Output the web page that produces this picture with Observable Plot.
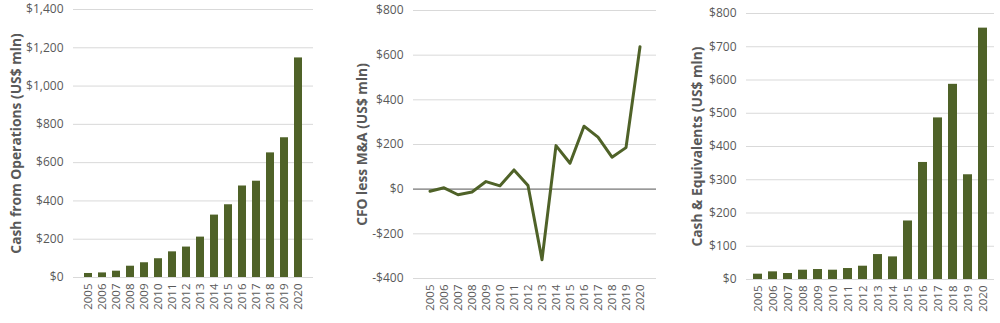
<!DOCTYPE html>
<html>
<head>
<meta charset="utf-8">
<script src="https://cdn.jsdelivr.net/npm/d3@7"></script>
<script src="https://cdn.jsdelivr.net/npm/@observablehq/plot@0.6"></script>
<style>
  html, body { margin: 0; padding: 0; background: #fff; }
  #row { display: flex; flex-direction: row; width: 1000px; height: 323px; overflow: hidden; }
  #row svg { display: block; }
</style>
</head>
<body>
<div id="row"></div>
<script>
const years = ["2005","2006","2007","2008","2009","2010","2011","2012","2013","2014","2015","2016","2017","2018","2019","2020"];
const cashFromOps = [21, 24, 33, 59, 77, 98, 134, 159, 211, 326, 380, 478, 503, 651, 730, 1147];
const cfoLessMA = [-9, 6, -25, -13, 34, 15, 86, 16, -316, 195, 116, 282, 233, 143, 186, 638];
const cashEquiv = [16, 23, 18, 28, 30, 28, 33, 40, 75, 68, 176, 352, 486, 587, 315, 756];

const ticks1 = [0, 200, 400, 600, 800, 1000, 1200, 1400];
const ticks2 = [-400, -200, 0, 200, 400, 600, 800];
const ticks3 = [0, 100, 200, 300, 400, 500, 600, 700, 800];

const titles = ["Cash from Operations (US$ mln)", "CFO less M&A (US$ mln)", "Cash & Equivalents (US$ mln)"];

const GREEN = "#4f6228";
const TEXT = "#595959";
const GRID = "#d9d9d9";
const FONT = "'Open Sans', 'Liberation Sans', sans-serif";

const fmt = v => (v < 0 ? "-$" : "$") + d3.format(",")(Math.abs(v));

function rows(vals) { return years.map((y, i) => ({year: y, value: vals[i]})); }

function panel({width, ml, mr, mt, mb, domain, ticks, title, titleDx, line, data}) {
  const marks = [
    Plot.ruleY(ticks, {stroke: GRID, strokeWidth: 1}),
    Plot.axisY({ticks, tickFormat: fmt, tickSize: 0, tickPadding: 10, fontSize: 12, fill: TEXT, label: null}),
    Plot.axisX({tickSize: 0, tickRotate: -90, tickPadding: 6, fontSize: 11.5, fill: TEXT, label: null}),
    Plot.text([title], {frameAnchor: "left", textAnchor: "middle", rotate: -90, dx: titleDx, fontSize: 13.8, fontWeight: "bold", fill: TEXT, fontFamily: FONT})
  ];
  if (line) {
    marks.push(Plot.ruleY([0], {stroke: "#7f7f7f", strokeWidth: 1.2}));
    marks.push(Plot.line(data, {x: "year", y: "value", stroke: GREEN, strokeWidth: 3, strokeLinejoin: "round"}));
  } else {
    marks.push(Plot.barY(data, {x: "year", y: "value", fill: GREEN}));
  }
  return Plot.plot({
    width, height: 323,
    marginLeft: ml, marginRight: mr, marginTop: mt, marginBottom: mb,
    style: {fontFamily: FONT, background: "#fff", color: TEXT},
    x: {type: "band", domain: years, padding: line ? 0.5 : 0.42, align: 0.5},
    y: {domain, nice: false},
    marks
  });
}

const row = document.getElementById("row");
row.append(panel({width: 333, ml: 73, mr: 20, mt: 9, mb: 46, domain: [0, 1400], ticks: ticks1, title: titles[0], titleDx: -57, line: false, data: rows(cashFromOps)}));
row.append(panel({width: 333, ml: 80, mr: 10, mt: 10, mb: 45, domain: [-400, 800], ticks: ticks2, title: titles[1], titleDx: -51, line: true, data: rows(cfoLessMA)}));
row.append(panel({width: 334, ml: 80, mr: 6, mt: 13, mb: 44, domain: [0, 800], ticks: ticks3, title: titles[2], titleDx: -49, line: false, data: rows(cashEquiv)}));
</script>
</body>
</html>
